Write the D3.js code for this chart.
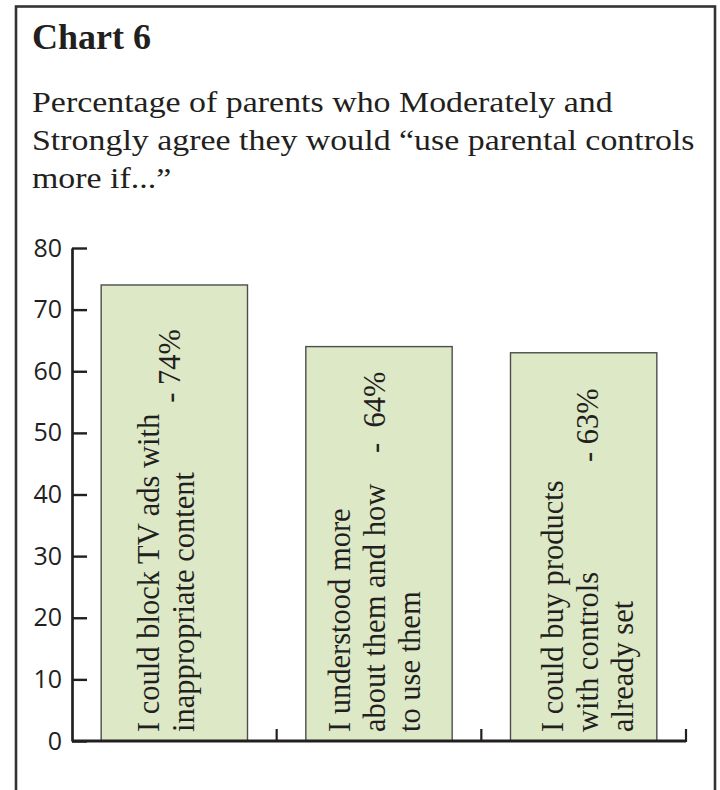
<!DOCTYPE html>
<html>
<head>
<meta charset="utf-8">
<script src="https://cdn.jsdelivr.net/npm/d3@7/dist/d3.min.js"></script>
<style>
  html, body { margin: 0; padding: 0; background: #ffffff; }
  svg { display: block; }
</style>
</head>
<body>
<div id="chart"></div>
<script>
// ---- data ----
const categories = ["block", "understand", "preset"];
const values = [74, 64, 63];
const labelLines = [
  ["I could block TV ads with", "inappropriate content"],
  ["I understood more", "about them and how", "to use them"],
  ["I could buy products", "with controls", "already set"]
];
const yTicks = [0, 10, 20, 30, 40, 50, 60, 70, 80];
const titleText = "Chart 6";
const subtitleLines = [
  "Percentage of parents who Moderately and",
  "Strongly agree they would \u201Cuse parental controls",
  "more if...\u201D"
];

// ---- layout ----
const W = 720, H = 790;
const ink = "#231f20";
const serif = "'Liberation Serif', 'Times New Roman', serif";
const sans = "'Open Sans', 'Noto Sans', sans-serif";
const lineGap = 35;                // spacing between rotated label lines
const labelShift = [2.5, 6, 14];   // small sideways nudge of each label block
const pctLine = [0.6, 1, 1];       // which line (in line units) carries the percentage
const pctEndGap = [44, 25, 35.5];  // distance of the percentage's end below the bar top
const pctSpaces = [1, 2, 1];       // spaces between the dash and the number

const svg = d3.select("#chart").append("svg")
  .attr("width", W).attr("height", H);

svg.append("rect").attr("width", W).attr("height", H).attr("fill", "#fff");

// frame
svg.append("rect")
  .attr("x", 16).attr("y", 6.5)
  .attr("width", 699).attr("height", 820)
  .attr("fill", "none").attr("stroke", "#333").attr("stroke-width", 2.6);

// title
svg.append("text")
  .attr("x", 32).attr("y", 49)
  .attr("font-family", serif).attr("font-weight", "bold")
  .attr("font-size", 36).attr("fill", ink)
  .text(titleText);

// subtitle
const sub = svg.append("g").attr("transform", "translate(32,0) scale(1.13,1)");
sub.selectAll("text").data(subtitleLines).join("text")
  .attr("x", 0).attr("y", (d, i) => 112 + i * 38)
  .attr("font-family", serif).attr("font-size", 30).attr("fill", ink)
  .text(d => d);

// scales
const y = d3.scaleLinear().domain([0, 80]).range([741, 248]);
const x = d3.scaleBand().domain(categories).range([72, 686])
  .paddingInner(0.285).paddingOuter(0.1425);

// bars
svg.append("g").selectAll("rect").data(values).join("rect")
  .attr("x", (d, i) => x(categories[i]))
  .attr("y", d => y(d))
  .attr("width", x.bandwidth())
  .attr("height", d => y(0) - y(d))
  .attr("fill", "#dce8c6")
  .attr("stroke", "#4d4d4d")
  .attr("stroke-width", 1.4);

// y axis (ticks pointing into the plot)
const yAxis = svg.append("g")
  .attr("transform", `translate(${x.range()[0]},0)`)
  .call(d3.axisLeft(y).tickValues(yTicks).tickSizeInner(-15).tickSizeOuter(0).tickPadding(10));
yAxis.select(".domain").attr("stroke", ink).attr("stroke-width", 2.7);
yAxis.selectAll(".tick line").attr("stroke", ink).attr("stroke-width", 2.4);
yAxis.selectAll(".tick text")
  .attr("font-family", sans).attr("font-size", 25).attr("fill", ink);

// x axis baseline with ticks at the right edge of each band
const x0 = x.range()[0];
const tickXs = categories.map(c => x(c) + x.bandwidth() + x.step() * x.paddingInner() / 2);
svg.append("line")
  .attr("x1", x0).attr("x2", tickXs[tickXs.length - 1])
  .attr("y1", y(0)).attr("y2", y(0))
  .attr("stroke", ink).attr("stroke-width", 3);
svg.append("g").selectAll("line").data(tickXs).join("line")
  .attr("x1", d => d).attr("x2", d => d)
  .attr("y1", y(0) + 1).attr("y2", y(0) - 12)
  .attr("stroke", ink).attr("stroke-width", 2.2);

// rotated labels inside the bars
const labels = svg.append("g").selectAll("g").data(values).join("g")
  .attr("transform", (d, i) => {
    const cx = x(categories[i]) + x.bandwidth() / 2;
    return `translate(${cx},${y(0)}) rotate(-90)`;
  });

labels.each(function (v, i) {
  const g = d3.select(this);
  const lines = labelLines[i];
  const n = lines.length;
  const base = k => (k - (n - 1) / 2) * lineGap + labelShift[i];
  g.selectAll("text.line").data(lines).join("text")
    .attr("class", "line")
    .attr("x", 9)
    .attr("y", (d, k) => base(k))
    .attr("font-family", serif).attr("font-size", 30.5).attr("fill", ink)
    .text(d => d);
  g.append("text")
    .attr("x", y(0) - (y(v) + pctEndGap[i]))
    .attr("y", base(pctLine[i]))
    .attr("text-anchor", "end")
    .attr("font-family", serif).attr("font-size", 30.5).attr("fill", ink)
    .text("-" + "\u00A0".repeat(pctSpaces[i]) + v + "%");
});
</script>
</body>
</html>
